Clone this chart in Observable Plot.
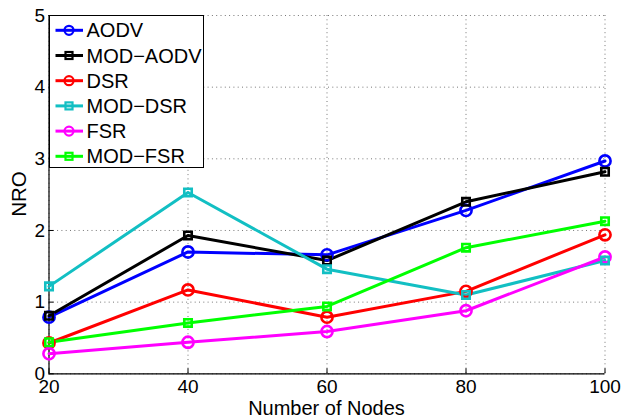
<!DOCTYPE html>
<html>
<head>
<meta charset="utf-8">
<script src="https://cdn.jsdelivr.net/npm/d3@7"></script>
<script src="https://cdn.jsdelivr.net/npm/@observablehq/plot@0.6"></script>
<style>
  html, body { margin: 0; padding: 0; background: #fff; }
  #wrap { position: relative; width: 621px; height: 420px; font-family: "Liberation Sans", Arial, sans-serif; }
  #legend { position: absolute; left: 49px; top: 15px; width: 155px; height: 153px; box-sizing: border-box; border: 1.3px solid #000; background: #fff; }
</style>
</head>
<body>
<div id="wrap"><div id="chartHost"></div><svg id="legend" width="155" height="153"></svg></div>
<script>
const nodes = [20, 40, 60, 80, 100];
const seriesNames = ["AODV", "MOD\u2212AODV", "DSR", "MOD\u2212DSR", "FSR", "MOD\u2212FSR"];
const seriesColors = ["#0000ff", "#000000", "#ff0000", "#12bfc3", "#ff00ff", "#00ff00"];
const seriesMarkers = ["circle", "square", "circle", "square", "circle", "square"];
const aodv    = [0.79, 1.70, 1.66, 2.28, 2.97];
const modAodv = [0.81, 1.93, 1.58, 2.40, 2.82];
const dsr     = [0.43, 1.17, 0.79, 1.15, 1.94];
const modDsr  = [1.22, 2.53, 1.46, 1.10, 1.58];
const fsr     = [0.28, 0.44, 0.59, 0.88, 1.63];
const modFsr  = [0.44, 0.71, 0.94, 1.76, 2.13];
const xTicks = [20, 40, 60, 80, 100];
const yTicks = [0, 1, 2, 3, 4, 5];

const seriesValues = [aodv, modAodv, dsr, modDsr, fsr, modFsr];
const data = [];
seriesNames.forEach((name, i) => {
  nodes.forEach((n, j) => data.push({series: name, x: n, y: seriesValues[i][j], marker: seriesMarkers[i]}));
});
const colorScale = {domain: seriesNames, range: seriesColors};
const FONT = "Liberation Sans, Arial, sans-serif";

const chart = Plot.plot({
  width: 621,
  height: 420,
  marginLeft: 48.5,
  marginRight: 16.5,
  marginTop: 15,
  marginBottom: 46.7,
  style: {fontFamily: FONT, fontSize: "19px", background: "#fff", color: "#000"},
  x: {domain: [20, 100]},
  y: {domain: [0, 5]},
  color: colorScale,
  marks: [
    Plot.gridX(xTicks, {stroke: "#777", strokeOpacity: 1, strokeWidth: 1, strokeDasharray: "1,3.3"}),
    Plot.gridY(yTicks, {stroke: "#777", strokeOpacity: 1, strokeWidth: 1, strokeDasharray: "1,3.3"}),
    Plot.axisX({ticks: xTicks, tickSize: 0, tickPadding: 6, tickFormat: d => String(d), fontSize: 19, label: null}),
    Plot.axisX({ticks: xTicks, tickSize: -5, tickFormat: () => "", label: null}),
    Plot.axisY({ticks: yTicks, tickSize: 0, tickPadding: 4, tickFormat: d => String(d), fontSize: 19, label: null}),
    Plot.axisY({ticks: yTicks, tickSize: -5, tickFormat: () => "", label: null}),
    Plot.ruleY([0], {stroke: "#000", strokeWidth: 1.2}),
    Plot.ruleX([20], {stroke: "#000", strokeWidth: 1.2}),
    Plot.line(data, {x: "x", y: "y", z: "series", stroke: "series", strokeWidth: 3}),
    Plot.dot(data.filter(d => d.marker === "circle"), {x: "x", y: "y", stroke: "series", symbol: "circle", r: 5.6, strokeWidth: 2.6, fill: "none"}),
    Plot.dot(data.filter(d => d.marker === "square"), {x: "x", y: "y", stroke: "series", symbol: "square", r: 4.2, strokeWidth: 2.6, fill: "none"})
  ]
});
const host = document.getElementById("chartHost");
host.appendChild(chart);

// axis titles as real SVG text
const svg = d3.select(chart);
svg.append("text").attr("x", 326.5).attr("y", 414.5).attr("text-anchor", "middle")
  .style("font-size", "20px").style("font-family", FONT).attr("fill", "#000").text("Number of Nodes");
svg.append("text").attr("transform", "translate(25.5,194) rotate(-90)").attr("text-anchor", "middle")
  .style("font-size", "20.5px").style("font-family", FONT).attr("fill", "#000").text("NRO");

// legend
const lg = d3.select("#legend");
seriesNames.forEach((name, i) => {
  const cy = 14.3 + i * 25.2;
  const g = lg.append("g");
  g.append("line").attr("x1", 5.5).attr("x2", 33).attr("y1", cy).attr("y2", cy)
    .attr("stroke", seriesColors[i]).attr("stroke-width", 3);
  if (seriesMarkers[i] === "circle") {
    g.append("circle").attr("cx", 19).attr("cy", cy).attr("r", 4.5).attr("fill", "none").attr("stroke", seriesColors[i]).attr("stroke-width", 2.2);
  } else {
    g.append("rect").attr("x", 15.5).attr("y", cy - 3.5).attr("width", 7).attr("height", 7).attr("fill", "none").attr("stroke", seriesColors[i]).attr("stroke-width", 2.2);
  }
  g.append("text").attr("x", 36.5).attr("y", cy + 7).style("font-size", "20px")
    .style("font-family", FONT).attr("fill", "#000").text(name);
});
</script>
</body>
</html>
